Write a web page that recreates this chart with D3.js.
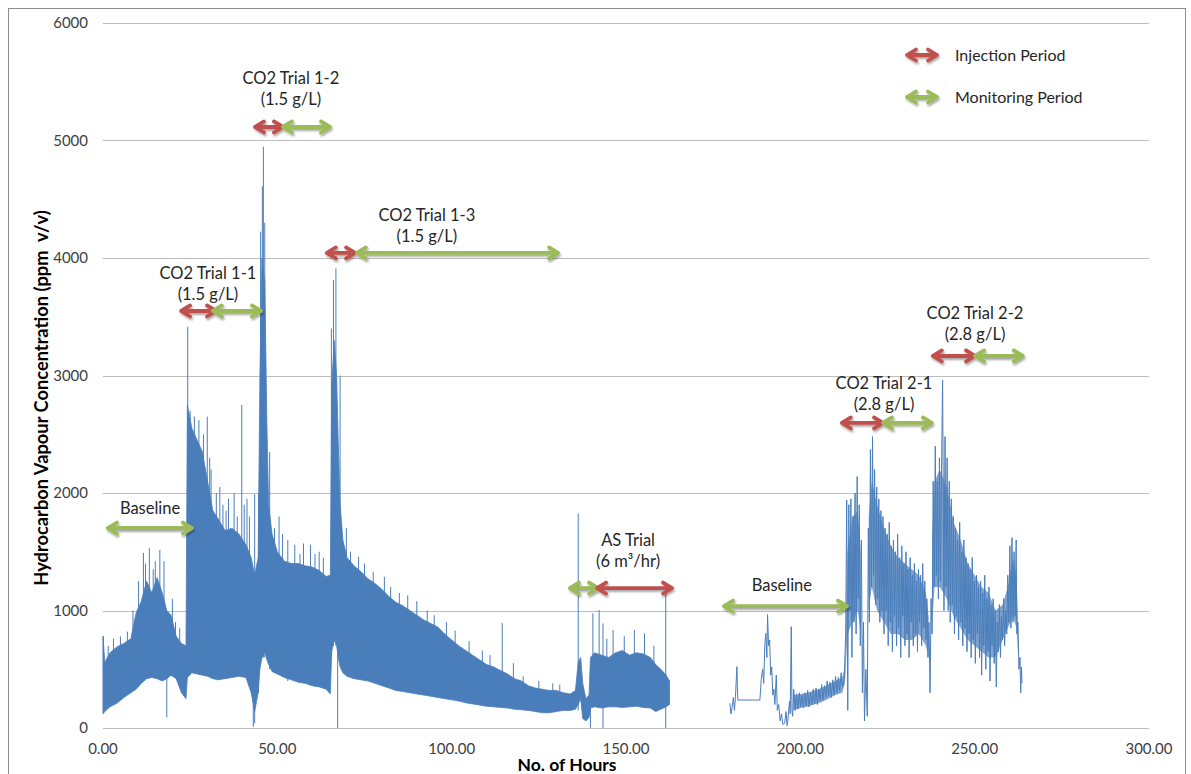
<!DOCTYPE html>
<html>
<head>
  <meta charset="utf-8">
  <script src="https://d3js.org/d3.v7.min.js"></script>
  <style>
    body { margin: 0; background: #fff; }
    text { font-family: Lato, "Open Sans", sans-serif; }
  </style>
</head>
<body>
<script>
  "use strict";

  /*
    Values
  */
  var hourTicks = [0, 50, 100, 150, 200, 250, 300];
  var ppmTicks = [0, 1000, 2000, 3000, 4000, 5000, 6000];

  // dense logging, 0 - 162.5 h : [hour, lower envelope, upper envelope] (ppm v/v)
  var denseBand = [
    [0, 120, 780], [0.5, 140, 560], [2, 180, 640], [4, 210, 690], [6, 260, 720],
    [8, 300, 760], [9.5, 330, 980], [11, 380, 1080], [12.5, 420, 1250], [14, 430, 1150],
    [15.5, 420, 1280], [17, 400, 1150], [18.3, 420, 1000], [19.5, 450, 960], [21, 420, 780],
    [22.5, 300, 720], [23.8, 250, 700], [24.2, 430, 2750], [25.5, 470, 2550], [27, 460, 2450],
    [28.5, 450, 2350], [30, 440, 2100], [31.5, 420, 1850], [33, 410, 1780], [35, 420, 1680],
    [37, 430, 1700], [39, 440, 1650], [41, 430, 1560], [42.5, 300, 1450], [43.5, 140, 1300],
    [44.5, 300, 1450], [45, 500, 3000], [45.6, 600, 4000], [46.4, 650, 3800], [47, 580, 2600],
    [47.5, 540, 1900], [48.5, 480, 1650],
    [50, 460, 1500], [52, 430, 1420], [54, 410, 1400], [56, 390, 1400], [58, 380, 1380],
    [60, 360, 1370], [62, 350, 1340], [64, 330, 1290], [65.2, 290, 1300], [65.6, 650, 2900],
    [66.3, 750, 3300], [67, 700, 3000], [67.5, 600, 2400], [68, 520, 1900], [68.8, 470, 1600],
    [70, 440, 1450], [72, 420, 1380],
    [74, 410, 1330], [76, 400, 1270], [78, 380, 1230], [80, 360, 1180], [82, 340, 1120],
    [84, 320, 1070], [86, 310, 1040], [88, 300, 1000], [90, 290, 960], [92, 280, 920],
    [94, 270, 890], [96, 260, 860], [98, 250, 800], [100, 240, 750], [102, 230, 700],
    [104, 215, 660], [106, 205, 620], [108, 195, 580], [110, 185, 540], [112, 180, 520],
    [114, 175, 490], [116, 170, 460], [118, 160, 420], [120, 155, 400], [122, 150, 360],
    [124, 140, 340], [126, 130, 330], [128, 130, 320], [130, 140, 320], [132, 150, 300],
    [134, 150, 290], [135.5, 160, 320], [136.3, 200, 560], [137, 250, 600], [137.6, 80, 380],
    [138.5, 60, 250], [139.4, 90, 280], [139.8, 170, 600], [141, 180, 640], [143, 170, 620],
    [145, 180, 600], [147, 180, 640], [149, 175, 660], [151, 180, 620], [153, 185, 640],
    [155, 175, 630], [157, 170, 600], [158.5, 140, 540], [160, 160, 500], [161.5, 180, 450],
    [162.5, 200, 400]
  ];

  // single readings standing out of the band : [hour, from ppm, to ppm]
  var spikes = [
    [0.1, 150, 780], [1.5, 500, 700], [3, 550, 760], [5, 600, 780], [7, 650, 820],
    [8.6, 700, 1000], [10.2, 800, 1250], [11.6, 700, 1490], [12.2, 900, 1400], [13.3, 700, 1530],
    [14.4, 900, 1350], [15, 700, 1420], [16.3, 700, 1515], [17.5, 600, 1420], [18.3, 90, 700],
    [19.9, 700, 1100], [20.8, 600, 900], [22, 500, 850], [24.3, 500, 3415], [25, 500, 2700],
    [26.2, 500, 2650], [27.5, 500, 2620], [28.8, 1500, 2500], [29.9, 450, 2650], [30.6, 1500, 2300],
    [31, 450, 2200], [32.5, 450, 2000], [33.5, 1200, 2050], [34.4, 450, 1900], [35.3, 1200, 1850],
    [36, 450, 1950], [37.6, 450, 2000], [38.5, 1200, 1800], [39.8, 450, 2750], [40.5, 1200, 1900],
    [41.3, 450, 1950], [42, 450, 1800], [43.1, 10, 600], [43.5, 40, 1990], [44.6, 300, 2000],
    [45.2, 600, 4224], [45.7, 600, 4610], [46, 600, 4947], [46.4, 600, 4300], [47.8, 500, 2350],
    [49.2, 1000, 1700], [50.5, 450, 1800], [51.5, 1000, 1650], [53, 400, 1600], [55, 1000, 1560],
    [56.5, 1000, 1480], [57.5, 380, 1570], [59.5, 380, 1560], [60.8, 900, 1480], [62, 350, 1500],
    [63.2, 900, 1450], [65.5, 600, 3400], [66.1, 700, 3813], [66.8, 700, 3912], [67.3, 0, 700],
    [68, 600, 3000], [69.8, 500, 1700], [71, 900, 1500], [73.3, 420, 1457], [75, 900, 1400],
    [77.5, 900, 1330], [80.7, 360, 1288], [82.5, 800, 1200], [85, 320, 1150], [87.4, 700, 1130],
    [90, 300, 1080], [93, 280, 1000], [95, 600, 960], [98.5, 600, 900], [101, 500, 830],
    [105, 450, 740], [108.8, 400, 660], [111, 400, 620], [114.5, 180, 893], [117.7, 160, 552],
    [120.5, 300, 440], [125, 250, 400], [129, 250, 380], [131, 250, 370], [136.3, 150, 1826],
    [139.8, 0, 300], [140.5, 200, 976], [142.3, 200, 1004], [143.4, 0, 890], [144.5, 300, 760],
    [146.3, 200, 834], [149.5, 300, 780], [152.4, 200, 834], [155.3, 200, 805], [158, 300, 700],
    [161.4, 0, 1190]
  ];

  // second baseline, 179.8 - 212.6 h : [hour, ppm]
  var baseline2Trace = [
    [179.8, 210], [180.1, 120], [180.4, 167], [180.8, 260], [181.1, 150], [181.4, 266], [181.8, 522],
    [182.0, 300], [182.1, 238], [188.4, 238], [188.8, 420], [189.2, 500], [189.5, 380], [189.8, 700],
    [190.1, 805], [190.4, 600], [190.6, 965], [190.9, 700], [191.2, 749], [191.5, 450], [191.8, 520],
    [192.1, 280], [192.4, 330], [192.7, 200], [193.1, 450], [193.4, 150], [193.8, 200], [194.2, 60],
    [194.6, 120], [195.0, 30], [195.5, 40], [195.9, 140], [196.2, 20], [196.4, 60], [196.9, 230],
    [197.1, 120], [197.4, 862], [197.6, 150], [197.8, 100], [198.1, 330], [198.5, 150], [198.9, 290],
    [199.3, 160], [199.7, 300], [200.1, 180], [200.5, 280], [200.9, 170], [201.3, 300], [201.7, 190],
    [202.1, 320], [202.5, 180], [202.9, 300], [203.3, 200], [203.7, 330], [204.1, 210], [204.5, 340],
    [204.9, 200], [205.3, 330], [205.7, 230], [206.1, 370], [206.5, 240], [206.9, 360], [207.3, 260],
    [207.7, 400], [208.1, 270], [208.5, 390], [208.9, 260], [209.3, 410], [209.7, 280], [210.1, 440],
    [210.5, 300], [210.9, 430], [211.3, 320], [211.7, 470], [212.1, 350], [212.6, 420]
  ];

  // CO2 trials 2-1 / 2-2, 213 - 263.6 h : [hour, ppm]
  var trial2Trace = [
    [213.0, 800], [213.3, 1940], [213.6, 150], [213.9, 1900], [214.2, 1000], [214.5, 1950], [214.8, 600],
    [215.1, 1800], [215.4, 900], [215.7, 2000], [216.0, 800], [216.3, 2140], [216.6, 1100], [216.9, 1900],
    [217.2, 700], [217.5, 1600], [217.8, 300], [218.1, 900], [218.4, 60], [218.8, 500], [219.2, 100],
    [219.5, 1700], [219.8, 900], [220.1, 2370], [220.4, 1200], [220.7, 2480], [221.0, 1300], [221.3, 2200],
    [221.6, 1050], [221.9, 2050], [222.2, 1100], [222.5, 1950], [222.8, 900], [223.1, 1850], [223.4, 1000],
    [223.7, 1800], [224.0, 800], [224.3, 1700], [224.6, 1000], [224.9, 1650], [225.2, 700], [225.5, 1750],
    [225.8, 900], [226.1, 1550], [226.4, 650], [226.7, 1600], [227.0, 950], [227.3, 1500], [227.6, 700],
    [227.9, 1650], [228.2, 850], [228.5, 1450], [228.8, 600], [229.1, 1550], [229.4, 950], [229.7, 1400],
    [230.0, 700], [230.3, 1500], [230.6, 800], [230.9, 1350], [231.2, 600], [231.5, 1450], [231.8, 900],
    [232.1, 1300], [232.4, 700], [232.7, 1400], [233.0, 800], [233.3, 1250], [233.6, 650], [233.9, 1350],
    [234.2, 900], [234.5, 1300], [234.8, 700], [235.1, 1400], [235.4, 850], [235.7, 1250], [236.0, 750],
    [236.3, 1100], [236.6, 600], [236.9, 900], [237.2, 300], [237.5, 1100], [237.8, 800], [238.1, 2100],
    [238.4, 1200], [238.7, 2400], [239.0, 1300], [239.3, 2100], [239.6, 1100], [239.9, 2300], [240.2, 1250],
    [240.5, 2200], [240.8, 2960], [241.2, 1000], [241.5, 2480], [241.8, 1200], [242.1, 2300], [242.4, 1000],
    [242.7, 2100], [243.0, 900], [243.3, 1950], [243.6, 1050], [243.9, 1800], [244.2, 800], [244.5, 1700],
    [244.8, 950], [245.1, 1600], [245.4, 750], [245.7, 1750], [246.0, 900], [246.3, 1500], [246.6, 700],
    [246.9, 1600], [247.2, 850], [247.5, 1450], [247.8, 650], [248.1, 1400], [248.4, 800], [248.7, 1350],
    [249.0, 600], [249.3, 1450], [249.6, 750], [249.9, 1250], [250.2, 550], [250.5, 1300], [250.8, 800],
    [251.1, 1200], [251.4, 600], [251.7, 1250], [252.0, 450], [252.3, 1150], [252.6, 700], [252.9, 1300],
    [253.2, 500], [253.5, 1100], [253.8, 650], [254.1, 1200], [254.4, 400], [254.7, 1050], [255.0, 700],
    [255.3, 1100], [255.6, 550], [255.9, 1000], [256.2, 350], [256.5, 900], [256.8, 650], [257.1, 1050],
    [257.4, 600], [257.7, 950], [258.0, 750], [258.3, 1100], [258.6, 700], [258.9, 1000], [259.2, 800],
    [259.5, 1300], [259.8, 900], [260.1, 1550], [260.4, 850], [260.7, 1620], [261.0, 900], [261.3, 1500],
    [261.6, 950], [261.9, 1600], [262.1, 800], [262.4, 900], [262.7, 500], [263.0, 600], [263.2, 300],
    [263.4, 520], [263.6, 380]
  ];

  // where most of the readings of 198 - 263 h fall : [hour, low, high], null = no dense core
  var trial2Core = [
    [198, 150, 280], [200, 170, 290], [202, 180, 300], [204, 200, 320], [206, 220, 340],
    [208, 250, 370], [210, 280, 400], [212, 300, 430], [212.8, 380, 520], [213.5, 800, 1500],
    [215, 900, 1800], [216.5, 1000, 1850], [217.3, 800, 1500], [218, null, null], [219.6, 1000, 1800],
    [220.5, 1200, 2100], [222, 1000, 1900], [224, 900, 1700], [226, 800, 1550], [228, 800, 1450],
    [230, 750, 1400], [232, 750, 1350], [234, 800, 1300], [236, 700, 1150], [236.8, 600, 950],
    [237.3, null, null], [237.8, 900, 1600], [238.5, 1200, 2100], [240, 1200, 2200], [242, 1100, 2050],
    [244, 950, 1750], [246, 850, 1600], [248, 750, 1400], [250, 700, 1300], [252, 650, 1200],
    [254, 600, 1150], [256, 600, 1000], [258, 750, 1050], [259.5, 850, 1200], [261, 950, 1450],
    [262, 850, 1300], [262.5, 600, 850]
  ];

  // trial periods : [trial id, kind, start hour, end hour]
  var periods = [
    ["B1", "monitor", 1.4, 25.5],
    ["T11", "inject", 22.4, 32.4], ["T11", "monitor", 31.5, 45.3],
    ["T12", "inject", 43.6, 51.6], ["T12", "monitor", 51.6, 65.1],
    ["T13", "inject", 64.2, 72.3], ["T13", "monitor", 72.8, 130.5],
    ["AS", "monitor", 133.9, 142], ["AS", "inject", 141.7, 163.2],
    ["B2", "monitor", 178.1, 213.4],
    ["T21", "inject", 211.9, 223.7], ["T21", "monitor", 223.7, 237.7],
    ["T22", "inject", 238, 250.1], ["T22", "monitor", 250.1, 263.8]
  ];

  var trialLabels = {
    B1: ["Baseline"],
    T11: ["CO2 Trial 1-1", "(1.5 g/L)"],
    T12: ["CO2 Trial 1-2", "(1.5 g/L)"],
    T13: ["CO2 Trial 1-3", "(1.5 g/L)"],
    AS: ["AS Trial", "(6 m\u00b3/hr)"],
    B2: ["Baseline"],
    T21: ["CO2 Trial 2-1", "(2.8 g/L)"],
    T22: ["CO2 Trial 2-2", "(2.8 g/L)"]
  };

  // where each annotation sits, in chart units: label hour, label ppm, arrow ppm
  var annotationPlace = {
    B1: [13.5, 1872, 1702], T11: [30.1, 3872, 3549], T12: [53.9, 5532, 5115],
    T13: [92.9, 4366, 4043], AS: [150.6, 1600, 1191], B2: [194.7, 1217, 1038],
    T21: [224, 2936, 2596], T22: [250.1, 3532, 3166]
  };

  var legendItems = [["inject", "Injection Period"], ["monitor", "Monitoring Period"]];

  /*
    Setup
  */
  var width = 1191, height = 774;
  var lineColor = "#4a7ebb";
  var kindColor = { inject: "#c0504d", monitor: "#9bbb59" };

  var svg = d3.select("body").append("svg")
      .attr("width", width)
      .attr("height", height);

  var defs = svg.append("defs");
  var f = defs.append("filter").attr("id", "shadow")
      .attr("x", "-20%").attr("y", "-80%").attr("width", "140%").attr("height", "260%");
  f.append("feGaussianBlur").attr("in", "SourceAlpha").attr("stdDeviation", 1.1);
  f.append("feOffset").attr("dx", 1).attr("dy", 2).attr("result", "off");
  f.append("feComponentTransfer").append("feFuncA").attr("type", "linear").attr("slope", 0.35);
  var fm = f.append("feMerge");
  fm.append("feMergeNode");
  fm.append("feMergeNode").attr("in", "SourceGraphic");

  svg.append("rect")
      .attr("x", 8.5).attr("y", 8.5)
      .attr("width", 1177).attr("height", 800)
      .attr("fill", "none")
      .attr("stroke", "#8c8c8c");

  var x = d3.scaleLinear().domain([0, 300]).range([103, 1149]);
  var y = d3.scaleLinear().domain([0, 6000]).range([728, 23]);

  // gridlines
  svg.append("g").selectAll("line")
      .data(ppmTicks)
      .enter().append("line")
      .attr("x1", x(0)).attr("x2", x(300))
      .attr("y1", function(d) { return Math.round(y(d)) + 0.5; })
      .attr("y2", function(d) { return Math.round(y(d)) + 0.5; })
      .attr("stroke", "#bdbdbd")
      .attr("stroke-width", 1);

  // axes labels
  svg.append("g").selectAll("text")
      .data(ppmTicks)
      .enter().append("text")
      .attr("x", 88)
      .attr("y", function(d) { return y(d); })
      .attr("dy", "0.35em")
      .attr("text-anchor", "end")
      .attr("font-size", 15)
      .attr("fill", "#404040")
      .text(function(d) { return d; });

  svg.append("g").selectAll("text")
      .data(hourTicks)
      .enter().append("text")
      .attr("x", function(d) { return x(d); })
      .attr("y", 754)
      .attr("text-anchor", "middle")
      .attr("font-size", 15)
      .attr("fill", "#404040")
      .text(function(d) { return d3.format(".2f")(d); });

  svg.append("text")
      .attr("x", 567).attr("y", 771)
      .attr("text-anchor", "middle")
      .attr("font-size", 17.5)
      .attr("font-weight", "bold")
      .text("No. of Hours");

  svg.append("text")
      .attr("transform", "translate(48,398) rotate(-90)")
      .attr("text-anchor", "middle")
      .attr("font-size", 18.3)
      .attr("font-weight", "bold")
      .style("white-space", "pre")
      .text("Hydrocarbon Vapour Concentration (ppm  v/v)");

  /*
    Data
  */
  var band = d3.area()
      .x(function(d) { return x(d[0]); })
      .y0(function(d) { return y(d[1]); })
      .y1(function(d) { return y(d[2]); });

  svg.append("path")
      .datum(denseBand)
      .attr("d", band)
      .attr("fill", lineColor)
      .attr("stroke", lineColor)
      .attr("stroke-width", 0.8);

  svg.append("g").selectAll("line")
      .data(spikes)
      .enter().append("line")
      .attr("x1", function(d) { return x(d[0]); })
      .attr("x2", function(d) { return x(d[0]); })
      .attr("y1", function(d) { return y(d[1]); })
      .attr("y2", function(d) { return y(d[2]); })
      .attr("stroke", lineColor)
      .attr("stroke-width", 1);

  svg.append("path")
      .datum(trial2Core)
      .attr("d", band.defined(function(d) { return d[1] !== null; }))
      .attr("fill", lineColor)
      .attr("fill-opacity", 0.7);

  var trace = d3.line()
      .x(function(d) { return x(d[0]); })
      .y(function(d) { return y(d[1]); });

  svg.append("path")
      .datum(baseline2Trace.concat(trial2Trace))
      .attr("d", trace)
      .attr("fill", "none")
      .attr("stroke", lineColor)
      .attr("stroke-width", 1);

  /*
    Annotations
  */
  function arrowPath(x1, x2, yy) {
    var hw = 9, hh = 5.5;
    return "M" + x1 + "," + yy + "L" + x2 + "," + yy +
      "M" + (x1 + hw) + "," + (yy - hh) + "L" + x1 + "," + yy + "L" + (x1 + hw) + "," + (yy + hh) +
      "M" + (x2 - hw) + "," + (yy - hh) + "L" + x2 + "," + yy + "L" + (x2 - hw) + "," + (yy + hh);
  }

  var arrows = svg.append("g").attr("filter", "url(#shadow)");

  arrows.selectAll("path")
      .data(periods)
      .enter().append("path")
      .attr("d", function(d) {
        return arrowPath(x(d[2]), x(d[3]), y(annotationPlace[d[0]][2]));
      })
      .attr("fill", "none")
      .attr("stroke", function(d) { return kindColor[d[1]]; })
      .attr("stroke-width", 3.8)
      .attr("stroke-linecap", "round")
      .attr("stroke-linejoin", "round");

  Object.keys(trialLabels).forEach(function(k) {
    var p = annotationPlace[k];
    var t = svg.append("text")
        .attr("text-anchor", "middle")
        .attr("font-size", 16.5)
        .attr("fill", "#262626");
    trialLabels[k].forEach(function(s, i) {
      t.append("tspan")
          .attr("x", x(p[0]))
          .attr("y", y(p[1]) + i * 21)
          .attr("dy", "0.35em")
          .text(s);
    });
  });

  var legend = svg.append("g")
      .attr("transform", "translate(907,55)")
      .selectAll("g")
      .data(legendItems)
      .enter().append("g")
      .attr("transform", function(d, i) { return "translate(0," + i * 42 + ")"; });

  legend.append("path")
      .attr("d", arrowPath(0, 30, 0))
      .attr("fill", "none")
      .attr("stroke", function(d) { return kindColor[d[0]]; })
      .attr("stroke-width", 3.8)
      .attr("stroke-linecap", "round")
      .attr("stroke-linejoin", "round")
      .attr("filter", "url(#shadow)");

  legend.append("text")
      .attr("x", 48)
      .attr("dy", "0.35em")
      .attr("font-size", 16)
      .attr("fill", "#262626")
      .text(function(d) { return d[1]; });
</script>
</body>
</html>
